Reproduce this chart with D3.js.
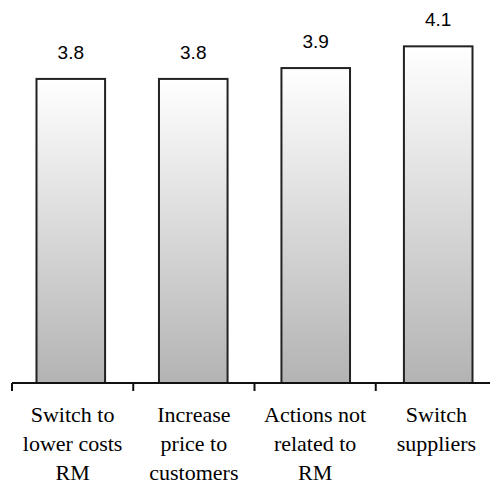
<!DOCTYPE html>
<html><head><meta charset="utf-8">
<script src="https://cdn.jsdelivr.net/npm/d3@7"></script>
</head><body style="margin:0;background:#fff">
<svg id="c" width="490" height="485" style="display:block"></svg>
<script>
const categories = [
  ["Switch to", "lower costs", "RM"],
  ["Increase", "price to", "customers"],
  ["Actions not", "related to", "RM"],
  ["Switch", "suppliers"]
];
const values = [3.8, 3.8, 3.9, 4.1];
const valueLabels = ["3.8", "3.8", "3.9", "4.1"];
const catFonts = ['"Liberation Serif"', '"Times New Roman"', '"Tinos"', '"Liberation Serif"'];

const svg = d3.select("#c");
const ids = categories.map((d, i) => i);
const x = d3.scaleBand().domain(ids).range([12, 497]).paddingInner(0.44).paddingOuter(0.2);
const xAxis = d3.scaleBand().domain(ids).range([12, 497]).padding(0);
const y = d3.scaleLinear().domain([1, 5]).range([383, 383 - 4 * 108.6]);

const lines = [];
categories.forEach((d, i) => d.forEach((line, j) => lines.push({ i, j, line })));
const cats = svg.selectAll("text.cat").data(lines).join("text")
  .attr("y", d => 422 + d.j * 29)
  .style("font-family", d => catFonts[d.i])
  .style("font-size", "22px")
  .text(d => d.line);
cats.attr("x", function(d) {
  const w = this.getComputedTextLength();
  return xAxis(d.i) + xAxis.bandwidth() / 2 - w / 2;
});

const defs = svg.append("defs");
const g = defs.append("linearGradient").attr("id", "grad").attr("x1", 0).attr("y1", 0).attr("x2", 0).attr("y2", 1);
g.append("stop").attr("offset", "0%").attr("stop-color", "#ffffff");
g.append("stop").attr("offset", "100%").attr("stop-color", "#b3b3b3");

svg.selectAll("rect.bar").data(values).join("rect")
  .attr("x", (d, i) => x(i))
  .attr("width", x.bandwidth())
  .attr("y", d => y(d))
  .attr("height", d => y(1) - y(d))
  .attr("fill", "url(#grad)")
  .attr("stroke", "#222")
  .attr("stroke-width", 2);

svg.selectAll("text.val").data(values).join("text")
  .attr("x", (d, i) => x(i) + x.bandwidth() / 2)
  .attr("y", d => y(d) - 20)
  .attr("text-anchor", "middle")
  .style("font-family", '"Liberation Sans"')
  .style("font-size", "19px")
  .text((d, i) => valueLabels[i]);

svg.append("line").attr("x1", 12).attr("x2", 490).attr("y1", y(1)).attr("y2", y(1))
  .attr("stroke", "#111").attr("stroke-width", 2);
svg.selectAll("line.tick").data(ids.map(i => xAxis(i))).join("line")
  .attr("x1", d => d).attr("x2", d => d)
  .attr("y1", y(1)).attr("y2", y(1) + 8)
  .attr("stroke", "#111").attr("stroke-width", 2);
</script>
</body></html>
